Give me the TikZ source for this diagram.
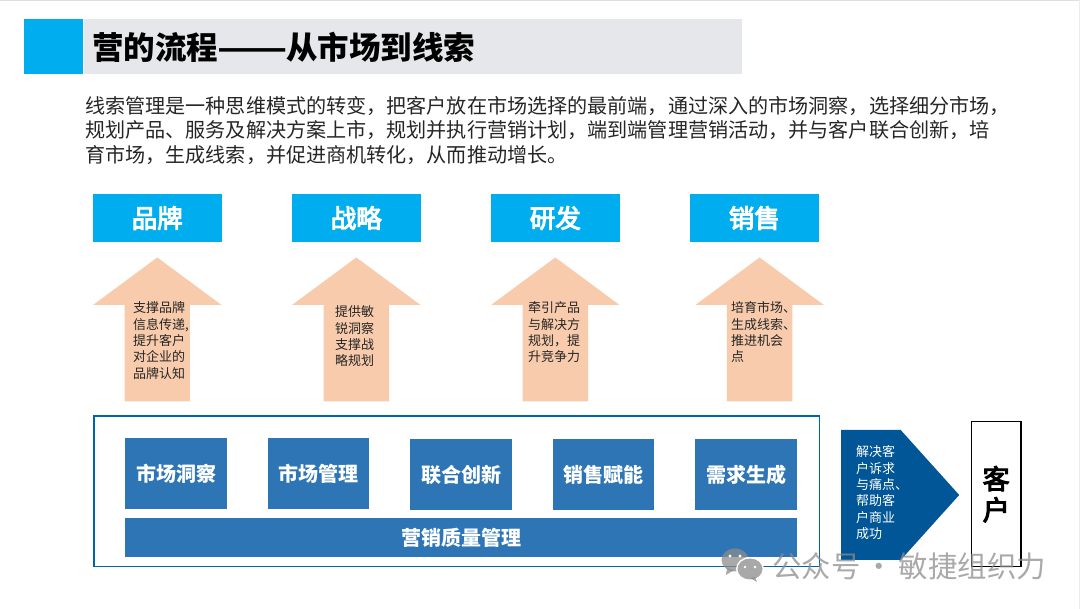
\documentclass[tikz,border=0pt]{standalone}
\usepackage{fontspec}
\usepackage{xcolor}
\usepackage{tikz}
\usetikzlibrary{positioning, shapes.arrows, shapes.symbols}
\setmainfont{Noto Sans CJK SC}
\newfontfamily\semibold[FakeBold=4]{Noto Sans CJK SC}
\definecolor{headcyan}{RGB}{0,174,239}
\definecolor{titlegray}{RGB}{230,231,234}
\definecolor{arrowpeach}{RGB}{247,203,172}
\definecolor{stepblue}{RGB}{46,117,182}
\definecolor{frameblue}{RGB}{0,100,170}
\definecolor{darkblue}{RGB}{0,86,150}
\definecolor{markgray}{RGB}{140,140,140}

\begin{document}
\begin{tikzpicture}[
    x=1pt, y=-1pt,
    headbox/.style={rectangle, fill=headcyan, text=white, minimum width=128.5pt, minimum height=48pt, inner sep=0pt, font=\fontsize{25.5}{28}\semibold},
    uparrow/.style={single arrow, shape border rotate=90, fill=arrowpeach, minimum height=144pt, minimum width=128pt, inner sep=0pt, text width=65pt, single arrow head extend=31.5pt, single arrow tip angle=107},
    arrowtext/.style={font=\fontsize{13}{16.4}\selectfont, align=left, inner sep=0pt, text=black!85},
    stepbox/.style={rectangle, fill=stepblue, text=white, minimum width=101.5pt, minimum height=71.5pt, inner sep=0pt, font=\fontsize{20}{24}\selectfont\bfseries},
    markbubble/.style={fill=markgray, opacity=0.75}
]
\useasboundingbox (0,0) rectangle (1080,609);
\fill[gray!25] (0,0) rectangle (1080,1.5);
\fill[gray!15] (1078.5,0) rectangle (1080,609);

% title bar
\node[rectangle, fill=headcyan, minimum width=59pt, minimum height=55pt, inner sep=0pt, anchor=north west] (titlemark) at (24,18.5) {};
\node[rectangle, fill=titlegray, minimum width=658pt, minimum height=55pt, inner sep=0pt, right=0pt of titlemark] (titlebar) {};
\node[anchor=west, inner sep=0pt, font=\fontsize{31.5}{36}\selectfont\bfseries] (titletext) at (92,47) {营的流程\makebox[68pt]{\scalebox{1.3}[1]{——}}从市场到线索};

\node[anchor=north west, inner sep=0pt, align=left, text=black!85, font=\fontsize{20.1}{24.5}\selectfont] (intro) at (85,96) {
    线索管理是一种思维模式的转变，把客户放在市场选择的最前端，通过深入的市场洞察，选择细分市场，\\
    规划产品、服务及解决方案上市，规划并执行营销计划，端到端管理营销活动，并与客户联合创新，培\\
    育市场，生成线索，并促进商机转化，从而推动增长。
};

% top row
\node[headbox] (brand) at (157.3,218) {品牌};
\node[headbox, right=70.1pt of brand] (strategy) {战略};
\node[headbox, right=70.1pt of strategy] (research) {研发};
\node[headbox, right=70.1pt of research] (sales) {销售};

% arrows
\node[uparrow, below=15pt of brand] (brandarrow) {};
\node[uparrow, below=15pt of strategy] (strategyarrow) {};
\node[uparrow, below=15pt of research] (researcharrow) {};
\node[uparrow, below=15pt of sales, xshift=5.3pt] (salesarrow) {};

\node[arrowtext, anchor=north west] (brandtext) at (133,301.5) {支撑品牌\\信息传递,\\提升客户\\对企业的\\品牌认知};
\node[arrowtext, anchor=north west] (strategytext) at (335,305.5) {提供敏\\锐洞察\\支撑战\\略规划};
\node[arrowtext, anchor=north west] (researchtext) at (528,301.5) {牵引产品\\与解决方\\规划，提\\升竞争力};
\node[arrowtext, anchor=north west] (salestext) at (731,301.5) {培育市场、\\生成线索、\\推进机会\\点};

% bottom frame
\node[rectangle, draw=frameblue, line width=1.5pt, minimum width=725.5pt, minimum height=150.5pt, inner sep=0pt, anchor=north west] (frame) at (93,415.5) {};
\node[stepbox] (insight) at (176,473.7) {市场洞察};
\node[stepbox, right=40.6pt of insight] (market) {市场管理};
\node[stepbox, right=40.6pt of market, yshift=-1pt] (cocreate) {联合创新};
\node[stepbox, right=40.6pt of cocreate] (enable) {销售赋能};
\node[stepbox, right=40.6pt of enable] (demand) {需求生成};
\node[rectangle, fill=stepblue, text=white, minimum width=672pt, minimum height=39pt, inner sep=0pt, anchor=north west, font=\fontsize{20}{24}\selectfont\bfseries] (quality) at (125,518) {营销质量管理};

% customer side
\node[signal, signal to=east, signal pointer angle=96, fill=darkblue, minimum width=118pt, minimum height=130pt, inner sep=0pt, anchor=west] (solve) at (841,495) {};
\node[arrowtext, text=white, anchor=north west] (solvetext) at (856,445.5) {解决客\\户诉求\\与痛点、\\帮助客\\户商业\\成功};
\node[rectangle, draw=black, line width=1.5pt, minimum width=49.5pt, minimum height=145pt, inner sep=0pt, align=center, anchor=north west, font=\fontsize{27}{31}\semibold] (customer) at (970.7,421) {客\\户};

% watermark
\fill[markbubble] (735,560) ellipse (13.5 and 11.5);
\fill[markbubble] (727,568) -- (726,575) -- (734,570) -- cycle;
\fill[white] (750,569) ellipse (14 and 12);
\fill[markbubble] (750,569) ellipse (12.5 and 10.5);
\fill[markbubble] (755,577) -- (757,582) -- (750,578) -- cycle;
\fill[white] (730,556) circle (1.6) (740,556) circle (1.6) (745,567) circle (1.4) (755,567) circle (1.4);
\node[anchor=west, inner sep=0pt, text=markgray, opacity=0.75, font=\fontsize{29.4}{32}\selectfont] (mark) at (772,566) {公众号\hspace{-2pt} · \hspace{-2pt}敏捷组织力};
\end{tikzpicture}
\end{document}
